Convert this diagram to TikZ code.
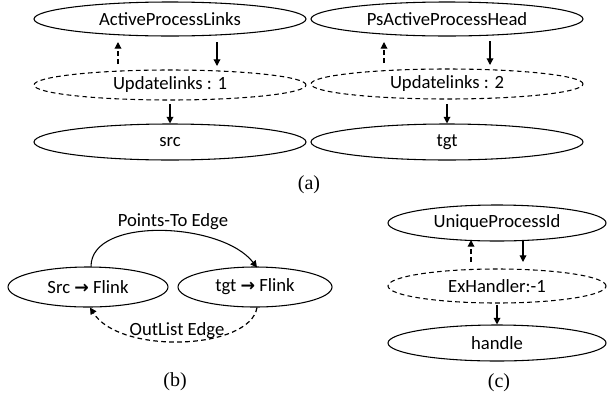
\documentclass[tikz,border=0pt]{standalone}
\usepackage{fontspec}
\setmainfont{Carlito}
\newfontfamily\capfont{Liberation Serif}
\newfontfamily\symfont{DejaVu Sans}
\usetikzlibrary{shapes.geometric,arrows.meta,calc}
\newcommand{\rarr}{{\symfont\bfseries\fontsize{13}{14}\selectfont →}}
\begin{document}
\begin{tikzpicture}[x=0.75pt,y=-0.75pt,
  every node/.style={font=\fontsize{14}{16}\selectfont},
  oval/.style={ellipse, draw, line width=0.8pt, inner sep=0pt},
  dashoval/.style={oval, dash pattern=on 3.5pt off 2.5pt},
  flow/.style={-{Triangle[length=5pt,width=5pt]}, line width=0.9pt},
  backflow/.style={flow, dash pattern=on 3.5pt off 2.5pt},
  caption/.style={font=\capfont\fontsize{15}{17}\selectfont, inner sep=0pt}]
\useasboundingbox (0,0) rectangle (616,397);

% (a) left column
\node[oval, minimum width=204pt, minimum height=25.5pt] (apl) at (170,19) {ActiveProcessLinks};
\node[dashoval, minimum width=204pt, minimum height=22.5pt] (upd1) at (170,85) {Updatelinks : 1};
\node[oval, minimum width=204pt, minimum height=27pt] (src) at (170,142) {src};
\draw[backflow] ($(upd1.center)+(-52,-21)$) -- ($(apl.center)+(-52,23)$);
\draw[flow] ($(apl.center)+(47,23)$) -- ($(upd1.center)+(47,-19)$);
\draw[flow] ($(upd1.center)+(0,19)$) -- (src.north);

% (a) right column
\node[oval, minimum width=204pt, minimum height=25.5pt] (pah) at (447,19) {PsActiveProcessHead};
\node[dashoval, minimum width=204pt, minimum height=22.5pt] (upd2) at (447,84) {Updatelinks : 2};
\node[oval, minimum width=204pt, minimum height=27pt] (tgt) at (447,142) {tgt};
\draw[backflow] ($(upd2.center)+(-63,-21)$) -- ($(pah.center)+(-63,23)$);
\draw[flow] ($(pah.center)+(43,22)$) -- ($(upd2.center)+(43,-19)$);
\draw[flow] ($(upd2.center)+(0,20)$) -- (tgt.north);

\node[caption] (capa) at (309,185) {(a)};

% (b) points-to and out-list edges
\node[oval, minimum width=120pt, minimum height=30pt] (srcf) at (88,287) {Src \rarr{} Flink};
\node[oval, minimum width=115.5pt, minimum height=30pt] (tgtf) at (255,287) {tgt \rarr{} Flink};
\draw[flow, line width=0.8pt] ($(srcf.north)+(3,0)$) .. controls (91,216) and (222,222) .. ($(tgtf.north)+(2,1)$);
\node (pte) at (173,222) {Points-To Edge};
\draw[backflow] ($(tgtf.south)+(2,0)$) .. controls (250,350) and (120,355) .. ($(srcf.south)+(2,0)$);
\node (ole) at (177,331) {OutList Edge};
\node[caption] (capb) at (175,382) {(b)};

% (c)
\node[oval, minimum width=163.5pt, minimum height=27pt] (uid) at (497,223) {UniqueProcessId};
\node[dashoval, minimum width=163.5pt, minimum height=25.5pt] (exh) at (497,286) {ExHandler:-1};
\node[oval, minimum width=163.5pt, minimum height=27pt] (hdl) at (497,343) {handle};
\draw[backflow] ($(exh.center)+(-26,-24)$) -- ($(uid.center)+(-26,17)$);
\draw[flow] ($(uid.center)+(26,18)$) -- ($(exh.center)+(26,-24)$);
\draw[flow] ($(exh.center)+(0,19)$) -- (hdl.north);
\node[caption] (capc) at (499,383) {(c)};
\end{tikzpicture}
\end{document}
